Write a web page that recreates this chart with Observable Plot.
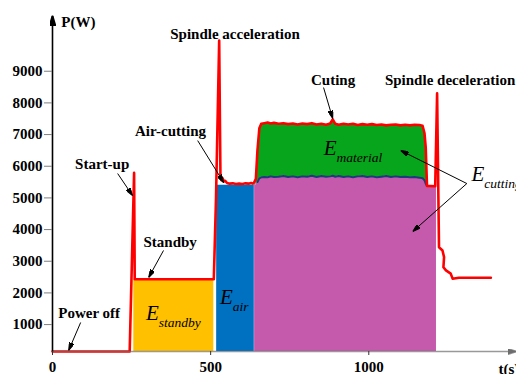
<!DOCTYPE html>
<html><head><meta charset="utf-8">
<script src="https://cdn.jsdelivr.net/npm/d3@7"></script>
<script src="https://cdn.jsdelivr.net/npm/@observablehq/plot@0.6"></script>
<style>html,body{margin:0;padding:0;background:#fff;overflow:hidden}</style>
</head><body><div id="chart"></div>
<script>
// ---- scale ranges / ticks ----
const xDomain = [0, 1467];
const yDomain = [150, 10760];
const xTicks = [0, 500, 1000];
const yTicks = [1000, 2000, 3000, 4000, 5000, 6000, 7000, 8000, 9000];

// ---- total power trace (red), before cutting ----
const preT = [0, 244, 258, 260, 510, 517, 527, 531, 534, 538, 541, 546, 552, 560, 570, 580, 590, 600, 610, 620, 628, 633, 637];
const preP = [150, 150, 5790, 2430, 2430, 5000, 9970, 5650, 5560, 5620, 5520, 5540, 5470, 5450, 5460, 5440, 5450, 5440, 5460, 5450, 5470, 5450, 5480];

// ---- cutting stage: red total power and navy (air-cutting level) ----
const cutT = [643, 648, 654, 660, 670, 680, 690, 700, 715, 730, 745, 760, 775, 790, 805, 820, 835, 850, 865, 878, 886, 894, 905, 920, 935, 950, 965, 980, 995, 1010, 1025, 1040, 1055, 1070, 1085, 1100, 1115, 1130, 1145, 1160, 1170, 1176, 1180, 1184];
const cutRed = [5600, 6500, 7200, 7340, 7360, 7380, 7350, 7370, 7340, 7360, 7330, 7350, 7320, 7350, 7330, 7360, 7320, 7340, 7310, 7350, 7480, 7340, 7310, 7340, 7320, 7340, 7300, 7330, 7310, 7330, 7300, 7320, 7290, 7310, 7320, 7290, 7310, 7290, 7310, 7300, 7280, 7050, 6600, 5380];
const cutNavy = [5400, 5500, 5620, 5650, 5660, 5650, 5680, 5660, 5670, 5690, 5660, 5680, 5650, 5680, 5670, 5700, 5660, 5690, 5670, 5680, 5700, 5670, 5690, 5660, 5680, 5650, 5680, 5690, 5660, 5680, 5650, 5670, 5690, 5660, 5680, 5660, 5670, 5650, 5660, 5640, 5620, 5560, 5450, 5380];

// ---- after cutting (spindle deceleration, back to standby) ----
const postT = [1210, 1216, 1222, 1233, 1238, 1236, 1244, 1259, 1265, 1285, 1386];
const postP = [5370, 8300, 3440, 3340, 3130, 2810, 2710, 2610, 2450, 2480, 2480];

// ---- energy areas ----
const standbyT = [257, 510];
const standbyP = [2430, 2430];
const airT = [519, 638];
const airP = [5400, 5400];
const pinkEdgeT = [639, 1214];
const pinkEdgeP = [5450, 5370];

// ---- annotations ----
const labelText = ["Spindle acceleration", "Start-up", "Air-cutting", "Standby", "Power off", "Cuting", "Spindle deceleration", "P(W)", "t(s)"];
const labelT = [577, 157, 373, 372, 116, 887, 1051, 28, 1410];
const labelP = [10020, 5920, 6940, 3465, 1200, 8550, 8550, 10390, -555];
const labelAnchor = ["middle", "middle", "middle", "middle", "middle", "middle", "start", "start", "start"];

const eSub = ["material", "standby", "air", "cutting"];
const eT = [898, 336, 570, 1365];
const eP = [6340, 1130, 1635, 5520];

const arrowT1 = [206, 459, 351, 89, 857, 1310, 1310];
const arrowP1 = [5770, 6810, 3340, 1066, 8485, 5454, 5454];
const arrowT2 = [253, 541, 304, 51, 886, 1101, 1139];
const arrowP2 = [5075, 5486, 2486, 182, 7506, 6496, 3939];

// ---- tables ----
const tbl = (ts, ps) => ts.map((t, i) => ({t, p: ps[i]}));
const redData = tbl([...preT, ...cutT, ...postT], [...preP, ...cutRed, ...postP]);
const cutData = cutT.map((t, i) => ({t, lo: cutNavy[i], hi: cutRed[i]}));
const pinkData = tbl([pinkEdgeT[0], ...cutT, pinkEdgeT[1]], [pinkEdgeP[0], ...cutNavy, pinkEdgeP[1]]);
const standbyData = tbl(standbyT, standbyP);
const airData = tbl(airT, airP);
const labels = labelText.map((s, i) => ({s, t: labelT[i], p: labelP[i], a: labelAnchor[i]}));
const eData = eSub.map((s, i) => ({s, t: eT[i], p: eP[i]}));
const arrows = arrowT1.map((t, i) => ({x1: t, y1: arrowP1[i], x2: arrowT2[i], y2: arrowP2[i]}));
const axisLines = [
  {x1: xDomain[0], y1: yDomain[0], x2: xDomain[1], y2: yDomain[0]},
  {x1: xDomain[0], y1: yDomain[0], x2: xDomain[0], y2: yDomain[1]}
];
const base = yDomain[0];

function headMarker(len, wid) {
  return (color) => {
    const ns = "http://www.w3.org/2000/svg";
    const m = document.createElementNS(ns, "marker");
    m.setAttribute("viewBox", `${-len} ${-wid / 2} ${len} ${wid}`);
    m.setAttribute("markerWidth", len);
    m.setAttribute("markerHeight", wid);
    m.setAttribute("markerUnits", "userSpaceOnUse");
    m.setAttribute("orient", "auto");
    const p = document.createElementNS(ns, "path");
    p.setAttribute("d", `M${-len},${-wid / 2}L0,0L${-len},${wid / 2}Z`);
    p.setAttribute("fill", color);
    m.appendChild(p);
    return m;
  };
}

const serif = "'Liberation Serif', 'Times New Roman', serif";

const chart = Plot.plot({
  width: 516, height: 374,
  marginLeft: 52, marginRight: 0, marginTop: 15, marginBottom: 23,
  x: {domain: xDomain, label: null},
  y: {domain: yDomain, label: null},
  style: {fontFamily: serif, fontSize: "15px", fontWeight: "bold", background: "#fff", color: "#000", overflow: "visible"},
  marks: [
    Plot.areaY(standbyData, {x: "t", y1: () => base, y2: "p", fill: "#ffc000", curve: "linear"}),
    Plot.areaY(airData, {x: "t", y1: () => base, y2: "p", fill: "#0070c0", curve: "linear"}),
    Plot.areaY(pinkData, {x: "t", y1: () => base, y2: "p", fill: "#c55aad", curve: "linear"}),
    Plot.areaY(cutData, {x: "t", y1: "lo", y2: "hi", fill: "#07a51b", curve: "linear"}),
    Plot.line(cutData.slice(1), {x: "t", y: "lo", stroke: "#1d3a7a", strokeWidth: 2, curve: "linear"}),
    Plot.line(redData, {x: "t", y: "p", stroke: "#ff0000", strokeWidth: 2.6, strokeLinejoin: "round", curve: "linear"}),
    Plot.link(axisLines.slice(0, 1), {x1: "x1", y1: "y1", x2: "x2", y2: "y2", stroke: "#6d6d6d", strokeWidth: 1.6, strokeOpacity: 0.7, markerEnd: headMarker(9, 6)}),
    Plot.link(axisLines.slice(1), {x1: "x1", y1: "y1", x2: "x2", y2: "y2", stroke: "#000000", strokeWidth: 1.6, markerEnd: headMarker(10, 6)}),
    Plot.axisY(yTicks, {anchor: "left", tickSize: 8, tickPadding: 2, tickFormat: d => String(d), stroke: "#7f7f7f", fill: "#000", fontSize: 15, fontWeight: "bold", label: null}),
    Plot.axisX(xTicks, {anchor: "bottom", tickSize: 4, tickPadding: 6, tickFormat: d => String(d), stroke: "#333", fill: "#000", fontSize: 15, fontWeight: "bold", label: null}),
    Plot.link(arrows, {x1: "x1", y1: "y1", x2: "x2", y2: "y2", stroke: "#000", strokeWidth: 1, markerEnd: headMarker(8, 5)}),
    Plot.text(labels.filter(d => d.a === "middle"), {x: "t", y: "p", text: "s", textAnchor: "middle", lineAnchor: "bottom", fontSize: 15, fontWeight: "bold", fill: "#000"}),
    Plot.text(labels.filter(d => d.a === "start"), {x: "t", y: "p", text: "s", textAnchor: "start", lineAnchor: "bottom", fontSize: 15, fontWeight: "bold", fill: "#000"}),
    Plot.text(eData, {x: "t", y: "p", text: () => "E", textAnchor: "end", lineAnchor: "bottom", fontSize: 21, fontStyle: "italic", fontWeight: "normal", fill: "#000"}),
    Plot.text(eData, {x: "t", y: "p", text: "s", textAnchor: "start", lineAnchor: "bottom", dy: 7, fontSize: 13.5, fontStyle: "italic", fontWeight: "normal", fill: "#000"})
  ]
});
document.getElementById("chart").appendChild(chart);
</script></body></html>
